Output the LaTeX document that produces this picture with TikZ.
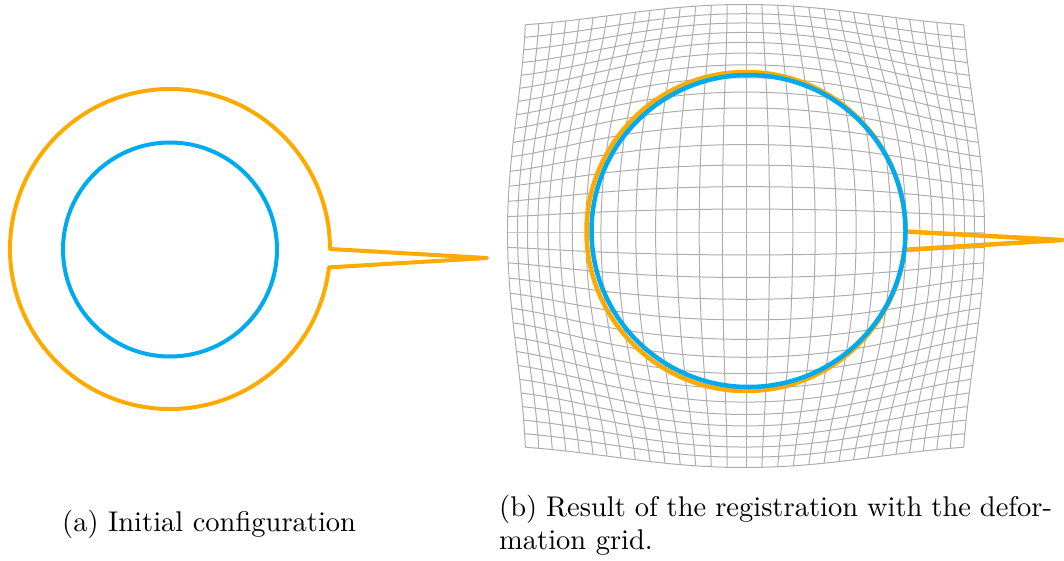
\documentclass[tikz,border=0pt]{standalone}
\definecolor{orng}{RGB}{255,170,0}
\definecolor{blu}{RGB}{0,170,238}
\begin{document}
\begin{tikzpicture}[x=1pt,y=-1pt,
  declare function={
    gs(\u,\v)=1+0.667*exp(-0.00765625*(\u*\u+\v*\v));
    gX(\u,\v)=746+1.015*14*\u*gs(\u,\v)-3*(\v/15)*(\v/15)*(\u<0);
    gY(\u,\v)=232+0.985*14*\v*gs(\u,\v)+4*(\v/15)*(\v/15);
  },
  gridline/.style={draw=black!32, line width=1pt},
  target/.style={draw=orng, line width=4pt, line join=round},
  source/.style={draw=blu, line width=4pt},
  caption/.style={anchor=base west, inner sep=0pt, font=\fontsize{10}{12}\selectfont}
]
\useasboundingbox (0,0) rectangle (1064,561);
% deformation grid
\foreach \i in {-15,...,15}{
  \draw[gridline] plot[domain=-15:15, samples=41, smooth, variable=\t] ({gX(\i,\t)},{gY(\i,\t)});
  \draw[gridline] plot[domain=-15:15, samples=41, smooth, variable=\t] ({gX(\t,\i)},{gY(\t,\i)});
}
% (a) initial configuration
\draw[target] (487,258) -- (330,249) arc[start angle=0, end angle=-353.4, radius=160] -- cycle;
\draw[source] (170,249.5) circle[radius=107];
% (b) result
\draw[target, line width=4.5pt] (1062,240) -- (905.5,231.5) arc[start angle=0, end angle=-353.4, radius=159.5] -- cycle;
\draw[source, line width=4.5pt] (748.5,231) ellipse[x radius=157, y radius=156];
% captions
\node[caption] (capA) at (62,531) {\scalebox{2.85}{(a) Initial configuration}};
\node[caption] (capB1) at (499,516) {\scalebox{2.85}{\makebox[194pt][s]{(b) Result of the registration with the defor-}}};
\node[caption] (capB2) at (499,549) {\scalebox{2.85}{mation grid.}};
\end{tikzpicture}
\end{document}
